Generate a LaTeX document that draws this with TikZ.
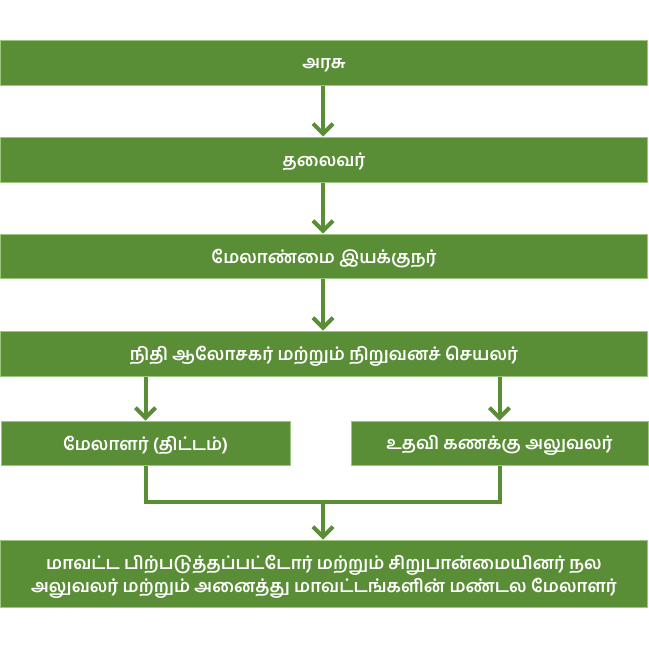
\documentclass[tikz,border=0pt]{standalone}
\usepackage{fontspec}
\newfontfamily\tamil[Script=Tamil]{Hind Madurai}
\usetikzlibrary{arrows.meta}
\definecolor{boxgreen}{HTML}{5A8E36}
\definecolor{edgegreen}{HTML}{9CC77D}
\definecolor{arrgreen}{HTML}{5A8E36}
\tikzset{
  box/.style={rectangle, fill=boxgreen, draw=edgegreen, line width=0.75pt, inner sep=0pt},
  txt/.style={text=white, font=\tamil\bfseries\fontsize{13.2}{17.5}\selectfont, align=center, inner sep=0pt},
  arr/.style={draw=arrgreen, line width=3pt, -{Straight Barb[length=7.5pt,width=15pt,line width=3pt]}},
  link/.style={draw=arrgreen, line width=3pt}
}
\begin{document}
\begin{tikzpicture}[x=0.75pt,y=-0.75pt]
\useasboundingbox (0,0) rectangle (649,657);
\node[box, minimum width=647*0.75pt, minimum height=45*0.75pt] (b1) at (324,62.5) {};
\node[box, minimum width=647*0.75pt, minimum height=45*0.75pt] (b2) at (324,159.5) {};
\node[box, minimum width=647*0.75pt, minimum height=44*0.75pt] (b3) at (324,256) {};
\node[box, minimum width=647*0.75pt, minimum height=45*0.75pt] (b4) at (324,353.5) {};
\node[box, minimum width=289*0.75pt, minimum height=44*0.75pt] (b5) at (145.5,443) {};
\node[box, minimum width=297*0.75pt, minimum height=44*0.75pt] (b6) at (499.5,443) {};
\node[box, minimum width=647*0.75pt, minimum height=67*0.75pt] (b7) at (324,573.5) {};
\node[txt] (t1) at ([yshift=-2pt]b1.center) {அரசு};
\node[txt] (t2) at ([yshift=-2pt]b2.center) {தலைவர்};
\node[txt] (t3) at ([yshift=-2pt]b3.center) {மேலாண்மை இயக்குநர்};
\node[txt] (t4) at ([yshift=-2pt]b4.center) {நிதி ஆலோசகர் மற்றும் நிறுவனச் செயலர்};
\node[txt] (t5) at ([yshift=-2pt]b5.center) {மேலாளர் (திட்டம்)};
\node[txt] (t6) at ([yshift=-2pt]b6.center) {உதவி கணக்கு அலுவலர்};
\node[txt] (t7) at ([yshift=-2.5pt]b7.center) {மாவட்ட பிற்படுத்தப்பட்டோர் மற்றும் சிறுபான்மையினர் நல\\அலுவலர் மற்றும் அனைத்து மாவட்டங்களின் மண்டல மேலாளர்};
\coordinate (j) at (323,502);
\draw[arr] (b1.south -| j) -- (b2.north -| j);
\draw[arr] (b2.south -| j) -- (b3.north -| j);
\draw[arr] (b3.south -| j) -- (b4.north -| j);
\draw[arr] (b4.south -| b5.north) -- (b5.north);
\draw[arr] (b4.south -| b6.north) -- (b6.north);
\draw[link] (b5.south) |- (j) -| (b6.south);
\draw[arr] (j) -- (j |- b7.north);
\end{tikzpicture}
\end{document}
